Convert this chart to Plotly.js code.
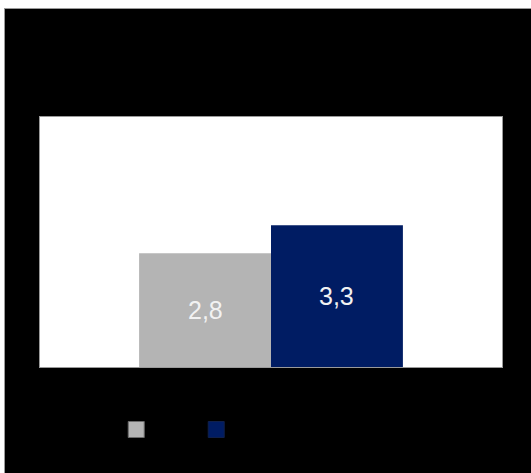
<!DOCTYPE html>
<html>
<head>
<meta charset="utf-8">
<script src="https://cdn.plot.ly/plotly-3.0.1.min.js"></script>
<style>
  html, body { margin: 0; padding: 0; background: #ffffff; }
  #wrap { position: absolute; left: 4px; top: 8px; border-left: 1px solid #9a9a9a; border-top: 1px solid #9a9a9a; }
  #chart { width: 526px; height: 464px; }
</style>
</head>
<body>
<div id="wrap"><div id="chart"></div></div>
<script>
var categories = ["A"];
var seriesNames = ["Serie 1", "Serie 2"];
var seriesA = [2.8];
var seriesB = [3.3];
var labelsA = ["2,8"];
var labelsB = ["3,3"];
var colors = ["#b4b4b4", "#001c63"];
var yRange = [0.77, 5.23];

var barCommon = {
  type: "bar",
  textposition: "none",
  hoverinfo: "skip",
  showlegend: false
};

var xIdx = categories.map(function (c, i) { return i; });

var traces = [
  Object.assign({}, barCommon, { x: xIdx, y: seriesA, name: seriesNames[0], offsetgroup: "a", marker: { color: colors[0] } }),
  Object.assign({}, barCommon, { x: xIdx, y: seriesB, name: seriesNames[1], offsetgroup: "b", marker: { color: colors[1] } }),
  { type: "scatter", mode: "markers", x: [null], y: [null], name: seriesNames[0],
    marker: { symbol: "square", size: 16, color: colors[0], line: { color: "#6a6a6a", width: 1 } } },
  { type: "scatter", mode: "markers", x: [null], y: [null], name: seriesNames[1],
    marker: { symbol: "square", size: 16, color: colors[1], line: { color: "#10204a", width: 1 } } }
];

// value labels centred in the visible part of each bar
var groupWidth = 1 - 0.429;
var annotations = [];
[[seriesA, labelsA, -1], [seriesB, labelsB, 1]].forEach(function (s) {
  s[0].forEach(function (v, i) {
    annotations.push({
      xref: "x", yref: "y",
      x: i + s[2] * groupWidth / 4,
      y: (Math.max(yRange[0], 0) + v) / 2,
      text: s[1][i], showarrow: false,
      xanchor: "center", yanchor: "middle",
      font: { family: "Liberation Sans, Arial, sans-serif", size: 25, color: "#f2f2f2" }
    });
  });
});

var layout = {
  width: 526,
  height: 464,
  paper_bgcolor: "#000000",
  plot_bgcolor: "#ffffff",
  margin: { l: 35, r: 29, t: 108, b: 106, pad: 0 },
  barmode: "group",
  bargap: 0.429,
  bargroupgap: 0,
  xaxis: { type: "linear", range: [-0.5, 0.5], showticklabels: false, ticks: "", showgrid: false, zeroline: false,
           showline: true, mirror: true, linecolor: "#9a9a9a", linewidth: 1, fixedrange: true },
  yaxis: { range: yRange, showticklabels: false, ticks: "", showgrid: false, zeroline: false,
           showline: true, mirror: true, linecolor: "#9a9a9a", linewidth: 1, fixedrange: true },
  annotations: annotations,
  showlegend: true,
  legend: {
    orientation: "h",
    x: 0.165, xanchor: "left",
    y: -0.25, yanchor: "middle",
    itemsizing: "trace",
    entrywidth: 35,
    entrywidthmode: "pixels",
    bgcolor: "rgba(0,0,0,0)",
    font: { family: "Liberation Sans, Arial, sans-serif", size: 12, color: "#000000" }
  }
};

Plotly.newPlot("chart", traces, layout, { displayModeBar: false, staticPlot: true });
</script>
</body>
</html>
